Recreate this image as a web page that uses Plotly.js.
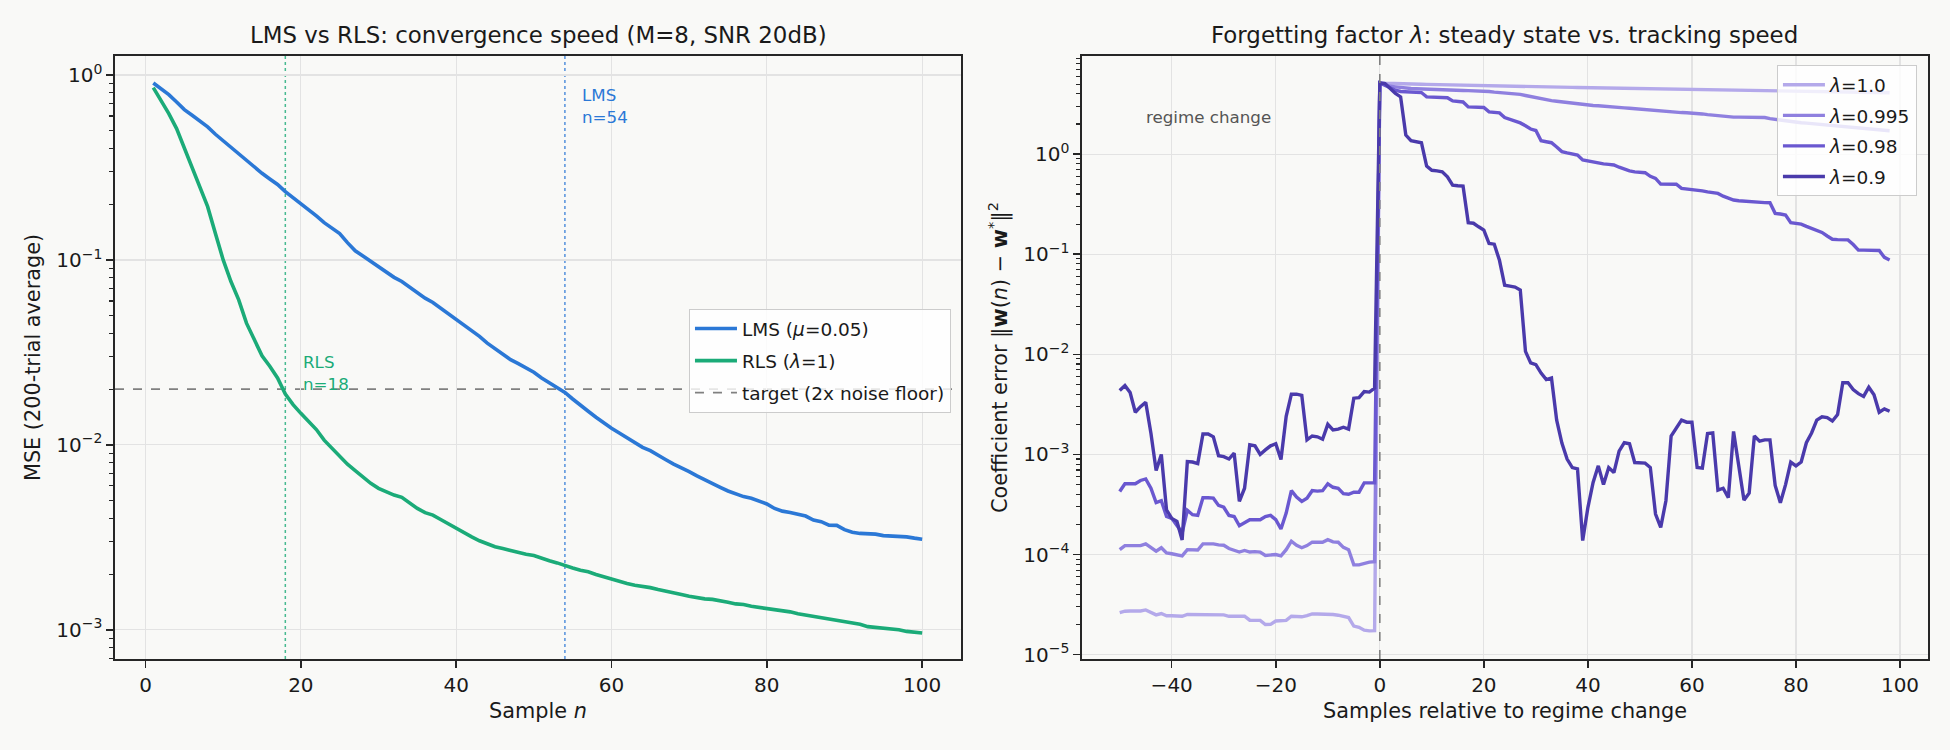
<!DOCTYPE html>
<html><head><meta charset="utf-8">
<script src="https://cdn.plot.ly/plotly-3.0.1.min.js"></script>
<style>html,body{margin:0;padding:0;background:#f9f9f7;}#chart{width:1950px;height:750px;}</style>
</head><body><div id="chart"></div>
<script>
// ---------- Data: left panel ----------
const sampleN = Array.from({length: 100}, (_, i) => i + 1);
const mseLMS = [0.905,0.844,0.783,0.715,0.65,0.606,0.565,0.524,0.478,0.44,
0.405,0.372,0.342,0.316,0.294,0.274,0.256,0.234,0.217,0.204,
0.188,0.173,0.159,0.148,0.139,0.124,0.112,0.105,0.098,0.092,
0.0858,0.0805,0.0764,0.0712,0.0661,0.0621,0.0589,0.0549,0.0512,0.0479,
0.0446,0.0416,0.0386,0.0355,0.033,0.0307,0.0289,0.0275,0.026,0.0247,
0.023,0.0216,0.0205,0.0192,0.0177,0.0163,0.0152,0.0141,0.0131,0.0123,
0.0116,0.0109,0.0102,0.0097,0.0093,0.00883,0.0083,0.00786,0.00754,0.00717,
0.00679,0.00646,0.00614,0.00589,0.00563,0.00542,0.00525,0.00514,0.00497,0.00479,
0.00453,0.00438,0.00431,0.00422,0.00412,0.00392,0.00384,0.00368,0.00367,0.00348,
0.00337,0.00332,0.0033,0.00329,0.00323,0.00321,0.00321,0.00318,0.00313,0.00309];
const mseRLS = [0.855,0.73,0.618,0.513,0.405,0.319,0.249,0.194,0.139,0.1,
0.0764,0.0608,0.0455,0.037,0.0303,0.0266,0.023,0.0188,0.0165,0.0148,
0.0134,0.0121,0.0106,0.0096,0.0087,0.00786,0.00726,0.00673,0.00619,0.00582,
0.00558,0.00535,0.0052,0.00483,0.00453,0.0043,0.00417,0.00395,0.00373,0.00353,
0.00336,0.00318,0.00303,0.0029,0.00281,0.00275,0.00268,0.00261,0.00256,0.00252,
0.00243,0.00236,0.0023,0.00222,0.00216,0.0021,0.00206,0.00199,0.00193,0.00189,
0.00183,0.00178,0.00174,0.00172,0.00169,0.00165,0.00161,0.00158,0.00155,0.00152,
0.00149,0.00147,0.00146,0.00144,0.00141,0.00138,0.00137,0.00134,0.00132,0.00131,
0.00129,0.00126,0.00125,0.00122,0.0012,0.00118,0.00117,0.00115,0.00113,0.00111,
0.00109,0.00107,0.00104,0.00103,0.00103,0.00101,0.001,0.00098,0.00097,0.00096];
const targetMSE = 0.02;
const crossRLS = 18;
const crossLMS = 54;
const leftYTickVals = [0.001, 0.01, 0.1, 1];
const leftYTickText = ['10<sup>−3</sup>','10<sup>−2</sup>','10<sup>−1</sup>','10<sup>0</sup>'];

// ---------- Data: right panel ----------
const relSample = Array.from({length: 149}, (_, i) => i - 50);
const errL1000 = [
2.63e-5,2.72e-5,2.73e-5,2.73e-5,2.73e-5,2.8e-5,2.65e-5,2.5e-5,2.58e-5,2.45e-5,
2.45e-5,2.44e-5,2.42e-5,2.52e-5,2.51e-5,2.51e-5,2.52e-5,2.52e-5,2.52e-5,2.51e-5,
2.5e-5,2.42e-5,2.41e-5,2.39e-5,2.42e-5,2.21e-5,2.21e-5,2.2e-5,2.0e-5,2.01e-5,
2.17e-5,2.17e-5,2.2e-5,2.42e-5,2.41e-5,2.39e-5,2.45e-5,2.55e-5,2.55e-5,2.55e-5,
2.54e-5,2.52e-5,2.48e-5,2.39e-5,2.35e-5,1.93e-5,1.88e-5,1.76e-5,1.73e-5,1.74e-5,
5.14,5.10,5.07,5.05,5.03,5.02,5.0,4.99,4.98,4.97,
4.96,4.95,4.94,4.93,4.92,4.92,4.91,4.9,4.9,4.89,
4.88,4.87,4.85,4.83,4.81,4.8,4.78,4.76,4.74,4.72,
4.71,4.7,4.69,4.68,4.67,4.66,4.65,4.64,4.63,4.62,
4.62,4.61,4.60,4.59,4.58,4.57,4.56,4.55,4.54,4.53,
4.52,4.51,4.50,4.49,4.48,4.47,4.46,4.45,4.44,4.43,
4.42,4.41,4.41,4.40,4.39,4.38,4.38,4.37,4.36,4.35,
4.35,4.34,4.33,4.33,4.32,4.31,4.31,4.30,4.29,4.29,
4.28,4.27,4.26,4.25,4.24,4.23,4.22,4.21,4.20,4.19,
4.18,4.17,4.16,4.15,4.14,4.13,4.12,4.11,4.10];
const errL0995 = [
1.12e-4,1.23e-4,1.23e-4,1.23e-4,1.23e-4,1.28e-4,1.17e-4,1.08e-4,1.17e-4,1.04e-4,
1.02e-4,1.0e-4,9.7e-5,1.12e-4,1.11e-4,1.11e-4,1.28e-4,1.28e-4,1.28e-4,1.25e-4,
1.24e-4,1.15e-4,1.1e-4,1.06e-4,1.1e-4,1.06e-4,1.07e-4,1.06e-4,9.8e-5,9.9e-5,
1.0e-4,9.7e-5,1.12e-4,1.36e-4,1.24e-4,1.17e-4,1.23e-4,1.33e-4,1.33e-4,1.33e-4,
1.41e-4,1.34e-4,1.33e-4,1.18e-4,1.12e-4,7.9e-5,7.9e-5,8.2e-5,8.4e-5,8.5e-5,
5.14,4.95,4.76,4.7,4.62,4.56,4.52,4.5,4.47,4.45,
4.43,4.41,4.38,4.35,4.34,4.33,4.32,4.31,4.3,4.29,
4.28,4.22,4.16,4.12,4.08,4.05,4.03,3.95,3.85,3.75,
3.65,3.59,3.5,3.42,3.37,3.32,3.28,3.22,3.16,3.12,
3.08,3.06,3.04,3.0,2.98,2.96,2.93,2.9,2.87,2.84,
2.81,2.79,2.74,2.7,2.67,2.65,2.64,2.62,2.6,2.59,
2.58,2.55,2.52,2.48,2.45,2.42,2.38,2.35,2.34,2.34,
2.33,2.33,2.32,2.32,2.32,2.26,2.22,2.18,2.15,2.12,
2.09,2.06,2.04,2.02,2.0,1.98,1.95,1.93,1.9,1.88,
1.87,1.85,1.83,1.81,1.79,1.77,1.75,1.73,1.71];
const errL0980 = [
4.27e-4,5.1e-4,5.1e-4,5.1e-4,5.5e-4,5.7e-4,4.6e-4,3.3e-4,3.45e-4,2.4e-4,
2.3e-4,1.94e-4,1.65e-4,2.77e-4,2.5e-4,2.46e-4,3.7e-4,3.7e-4,3.66e-4,3.1e-4,
2.97e-4,2.46e-4,2.4e-4,1.94e-4,2.1e-4,2.23e-4,2.23e-4,2.23e-4,2.4e-4,2.46e-4,
2.23e-4,1.8e-4,2.6e-4,4.35e-4,3.75e-4,3.4e-4,3.66e-4,4.35e-4,4.3e-4,4.35e-4,
5.1e-4,4.7e-4,4.6e-4,4.06e-4,4.0e-4,4.2e-4,4.2e-4,5.2e-4,5.2e-4,5.2e-4,
5.14,4.85,4.52,4.35,4.22,4.19,4.15,4.13,4.12,3.73,
3.70,3.68,3.67,3.66,3.40,3.38,3.32,2.96,2.94,2.93,
2.92,2.64,2.6,2.58,2.32,2.22,2.12,2.05,1.92,1.78,
1.72,1.36,1.33,1.30,1.18,1.06,1.03,1.0,0.978,0.873,
0.85,0.84,0.82,0.8,0.79,0.778,0.74,0.704,0.68,0.665,
0.655,0.652,0.6,0.572,0.502,0.502,0.502,0.50,0.455,0.45,
0.442,0.438,0.43,0.42,0.41,0.405,0.38,0.36,0.348,0.342,
0.338,0.335,0.333,0.33,0.328,0.327,0.256,0.252,0.246,0.207,
0.204,0.2,0.19,0.182,0.175,0.165,0.152,0.141,0.14,0.14,
0.139,0.125,0.11,0.11,0.109,0.109,0.109,0.093,0.0877];
const errL0900 = [
4.35e-3,4.87e-3,4.15e-3,2.64e-3,3.0e-3,3.33e-3,1.63e-3,6.9e-4,1.0e-3,2.8e-4,
2.3e-4,2.15e-4,1.4e-4,8.5e-4,8.4e-4,8.1e-4,1.6e-3,1.6e-3,1.5e-3,9.7e-4,
9.5e-4,9.0e-4,1.03e-3,3.4e-4,4.6e-4,1.25e-3,1.22e-3,1.0e-3,1.11e-3,1.22e-3,
1.28e-3,8.9e-4,2.4e-3,4.0e-3,4.0e-3,3.9e-3,1.4e-3,1.53e-3,1.5e-3,1.42e-3,
2.0e-3,1.76e-3,1.79e-3,1.87e-3,1.79e-3,3.65e-3,3.7e-3,4.25e-3,4.2e-3,4.6e-3,
5.14,5.06,4.52,4.03,3.73,1.55,1.36,1.33,1.30,0.76,
0.69,0.68,0.667,0.594,0.49,0.483,0.48,0.207,0.204,0.188,
0.174,0.128,0.126,0.087,0.049,0.048,0.047,0.044,0.0107,0.0082,
0.0079,0.0065,0.0056,0.0058,0.0022,0.0013,9.0e-4,7.4e-4,7.2e-4,1.38e-4,
2.95e-4,5.25e-4,7.7e-4,5.0e-4,7.4e-4,6.6e-4,1.08e-3,1.31e-3,1.28e-3,8.3e-4,
8.3e-4,8.2e-4,7.4e-4,2.54e-4,1.87e-4,3.45e-4,1.53e-3,1.85e-3,2.2e-3,2.1e-3,
2.1e-3,7.4e-4,7.3e-4,1.62e-3,1.64e-3,4.4e-4,4.6e-4,3.7e-4,1.7e-3,7.7e-4,
3.5e-4,4.1e-4,1.53e-3,1.36e-3,1.4e-3,1.4e-3,4.9e-4,3.3e-4,5.0e-4,8.4e-4,
7.7e-4,8.4e-4,1.31e-3,1.64e-3,2.2e-3,2.38e-3,2.33e-3,2.16e-3,2.5e-3,5.2e-3,
5.2e-3,4.45e-3,4.05e-3,3.8e-3,4.7e-3,3.95e-3,2.64e-3,2.85e-3,2.7e-3];
const lambdaLabels = ['<i>λ</i>=1.0','<i>λ</i>=0.995','<i>λ</i>=0.98','<i>λ</i>=0.9'];
const regimeChangeAt = 0;
const rightYTickVals = [1e-5,1e-4,1e-3,1e-2,1e-1,1];
const rightYTickText = ['10<sup>−5</sup>','10<sup>−4</sup>','10<sup>−3</sup>','10<sup>−2</sup>','10<sup>−1</sup>','10<sup>0</sup>'];

// ---------- Styling ----------
const FONT = 'DejaVu Sans, Liberation Sans, sans-serif';
const BG = '#f9f9f7';
const C_LMS = '#2b78d6', C_RLS = '#1bab78';
const C_LAM = ['#b4a9ea','#8f80df','#6a58d0','#4a3aab'];
const AX = '#262626', GRID = '#e3e3e3';

function minorVals(e0, e1){ const v=[]; for(let e=e0;e<=e1;e++) for(let m=2;m<=9;m++) v.push(m*Math.pow(10,e)); return v; }

const baseAxis = {
  showline:true, mirror:true, linecolor:AX, linewidth:1.6,
  ticks:'outside', ticklen:7, tickwidth:1.5, tickcolor:AX,
  showgrid:true, gridcolor:GRID, gridwidth:1.2, zeroline:false,
  tickfont:{family:FONT, size:20, color:'#1a1a1a'},
};

const traces = [
  {x:sampleN, y:mseLMS, type:'scatter', mode:'lines', name:'LMS (<i>μ</i>=0.05)', legendgroup:'a',
   line:{color:C_LMS, width:3.6}, xaxis:'x', yaxis:'y', legend:'legend'},
  {x:sampleN, y:mseRLS, type:'scatter', mode:'lines', name:'RLS (<i>λ</i>=1)', legendgroup:'b',
   line:{color:C_RLS, width:3.6}, xaxis:'x', yaxis:'y', legend:'legend'},
  {x:[null], y:[null], type:'scatter', mode:'lines', name:'target (2x noise floor)', legendgroup:'c',
   line:{color:'#808080', width:1.8, dash:'dash'}, xaxis:'x', yaxis:'y', legend:'legend'},
];
[errL1000, errL0995, errL0980, errL0900].forEach((arr, i) => {
  traces.push({x:relSample, y:arr, type:'scatter', mode:'lines', name:lambdaLabels[i], legendgroup:'L'+i,
    line:{color:C_LAM[i], width:3.4}, xaxis:'x2', yaxis:'y2', legend:'legend2'});
});

const layout = {
  width:1950, height:750,
  paper_bgcolor:BG, plot_bgcolor:BG,
  margin:{l:115, r:22, t:55.7, b:90.7},
  font:{family:FONT, color:'#1a1a1a'},
  showlegend:true,
  xaxis: Object.assign({}, baseAxis, {domain:[0, 0.46663], range:[-3.93, 105.0], tick0:0, dtick:20,
    title:{text:'Sample <i>n</i>', font:{family:FONT, size:20.8}, standoff:8}}),
  yaxis: Object.assign({}, baseAxis, {type:'log', range:[-3.158, 0.1027],
    tickmode:'array', tickvals:leftYTickVals, ticktext:leftYTickText,
    minor:{tickmode:'array', tickvals:minorVals(-4,0), ticks:'outside', ticklen:4, tickwidth:1.1, tickcolor:AX, showgrid:false},
    title:{text:'MSE (200-trial average)', font:{family:FONT, size:20.8}, standoff:10}}),
  xaxis2: Object.assign({}, baseAxis, {domain:[0.53337, 1], range:[-57.25, 105.38], tick0:0, dtick:20, anchor:'y2',
    title:{text:'Samples relative to regime change', font:{family:FONT, size:20.8}, standoff:8}}),
  yaxis2: Object.assign({}, baseAxis, {type:'log', range:[-5.043, 0.98], anchor:'x2',
    tickmode:'array', tickvals:rightYTickVals, ticktext:rightYTickText,
    minor:{tickmode:'array', tickvals:minorVals(-6,0), ticks:'outside', ticklen:4, tickwidth:1.1, tickcolor:AX, showgrid:false},
    title:{text:'Coefficient error ‖<b>w</b>(<i>n</i>) − <b>w</b><sup>*</sup>‖<sup>2</sup>', font:{family:FONT, size:20.8}, standoff:10}}),
  legend:{x:0.4611, xanchor:'right', y:0.5804, yanchor:'top', traceorder:'grouped', tracegroupgap:5,
    bgcolor:'rgba(255,255,255,0.8)', bordercolor:'#cccccc', borderwidth:1,
    font:{family:FONT, size:18.5, color:'#1a1a1a'}, itemwidth:42},
  legend2:{x:0.9939, xanchor:'right', y:0.9846, yanchor:'top', traceorder:'grouped', tracegroupgap:3.5,
    bgcolor:'rgba(255,255,255,0.8)', bordercolor:'#cccccc', borderwidth:1,
    font:{family:FONT, size:18.5, color:'#1a1a1a'}, itemwidth:42},
  shapes:[
    {type:'line', xref:'x domain', yref:'y', x0:0, x1:1, y0:targetMSE, y1:targetMSE,
     line:{color:'#808080', width:1.8, dash:'dash'}, layer:'below'},
    {type:'line', xref:'x', yref:'y domain', x0:crossRLS, x1:crossRLS, y0:0, y1:1,
     line:{color:C_RLS, width:1.5, dash:'dot'}, opacity:0.8, layer:'below'},
    {type:'line', xref:'x', yref:'y domain', x0:crossLMS, x1:crossLMS, y0:0, y1:1,
     line:{color:C_LMS, width:1.5, dash:'dot'}, opacity:0.8, layer:'below'},
    {type:'line', xref:'x2', yref:'y2 domain', x0:regimeChangeAt, x1:regimeChangeAt, y0:0, y1:1,
     line:{color:'#808080', width:1.6, dash:'dash'}, layer:'above'},
  ],
  annotations:[
    {xref:'x domain', yref:'y domain', x:0.5, y:1.0343, text:'LMS vs RLS: convergence speed (M=8, SNR 20dB)',
     showarrow:false, xanchor:'center', yanchor:'middle', font:{family:FONT, size:22.9, color:'#1a1a1a'}},
    {xref:'x2 domain', yref:'y2 domain', x:0.5, y:1.0343, text:'Forgetting factor <i>λ</i>: steady state vs. tracking speed',
     showarrow:false, xanchor:'center', yanchor:'middle', font:{family:FONT, size:22.9, color:'#1a1a1a'}},
    {xref:'x', yref:'y', x:20, y:-1.612, text:'RLS<br>n=' + crossRLS, align:'left',
     showarrow:false, xanchor:'left', yanchor:'middle', font:{family:FONT, size:16.7, color:C_RLS}},
    {xref:'x', yref:'y', x:56, y:-0.169, text:'LMS<br>n=' + crossLMS, align:'left',
     showarrow:false, xanchor:'left', yanchor:'middle', font:{family:FONT, size:16.7, color:C_LMS}},
    {xref:'x2', yref:'y2', x:-33, y:0.369, text:'regime change',
     showarrow:false, xanchor:'center', yanchor:'middle', font:{family:FONT, size:16.7, color:'#555555'}},
  ],
};

Plotly.newPlot('chart', traces, layout, {displayModeBar:false, staticPlot:true});
</script>
</body></html>
